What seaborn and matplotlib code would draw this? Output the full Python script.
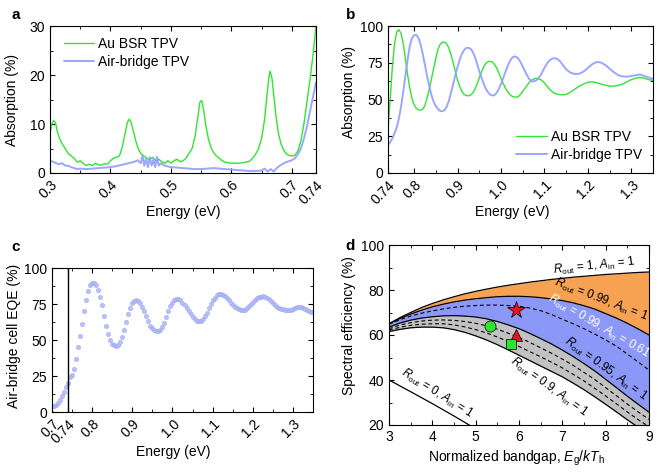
import numpy as np
import pandas as pd
import matplotlib
matplotlib.use("Agg")
import matplotlib.pyplot as plt
import seaborn as sns
from matplotlib.ticker import MultipleLocator, FixedLocator

# ---------------- data ----------------
# panel a : Au BSR TPV absorption
a_au_energy = [0.300, 0.303, 0.306, 0.309, 0.312, 0.316, 0.320, 0.325, 0.330, 0.335, 0.340, 0.345,
               0.350, 0.355, 0.360, 0.365, 0.370, 0.375, 0.380, 0.385, 0.390, 0.395, 0.400, 0.405,
               0.410, 0.415, 0.420, 0.424, 0.428, 0.431, 0.434, 0.438, 0.442, 0.446, 0.450, 0.455,
               0.460, 0.465, 0.470, 0.475, 0.480, 0.485, 0.490, 0.495, 0.500, 0.505, 0.510, 0.515,
               0.520, 0.525, 0.530, 0.535, 0.540, 0.544, 0.548, 0.551, 0.554, 0.558, 0.562, 0.566,
               0.570, 0.575, 0.580, 0.585, 0.590, 0.600, 0.610, 0.620, 0.630, 0.635, 0.640, 0.645,
               0.650, 0.655, 0.659, 0.662, 0.664, 0.667, 0.670, 0.674, 0.678, 0.682, 0.686, 0.690,
               0.695, 0.700, 0.705, 0.710, 0.715, 0.720, 0.725, 0.730, 0.735, 0.740]
a_au_abs = [8.0, 10.0, 10.7, 10.3, 8.5, 7.0, 6.0, 5.0, 4.0, 3.5, 3.0, 2.2,
            2.5, 2.0, 1.5, 1.8, 1.5, 2.0, 1.7, 1.6, 1.9, 1.8, 2.5, 3.0,
            3.2, 3.5, 5.5, 8.0, 10.3, 11.0, 10.4, 8.5, 6.5, 5.0, 4.0, 3.5,
            3.0, 2.8, 3.2, 2.5, 2.8, 2.3, 2.0, 2.5, 2.0, 2.5, 2.8, 2.3,
            2.5, 3.0, 4.0, 5.0, 7.5, 11.0, 14.5, 14.8, 13.0, 9.5, 7.0, 5.3,
            4.3, 3.5, 3.0, 2.5, 2.2, 2.0, 2.0, 2.1, 2.4, 3.0, 3.8, 5.0,
            7.0, 11.0, 16.0, 19.5, 20.8, 19.5, 16.0, 11.5, 8.0, 6.0, 4.8, 4.0,
            3.6, 3.5, 3.6, 4.5, 6.5, 10.0, 14.5, 19.0, 24.0, 30.0]
# panel a : air-bridge TPV absorption
a_ab_energy = [0.300, 0.305, 0.310, 0.315, 0.320, 0.325, 0.330, 0.335, 0.340, 0.345, 0.350, 0.360,
               0.370, 0.380, 0.390, 0.400, 0.410, 0.420, 0.430, 0.440, 0.445, 0.450, 0.453, 0.456,
               0.459, 0.462, 0.465, 0.468, 0.471, 0.474, 0.477, 0.480, 0.483, 0.490, 0.500, 0.510,
               0.520, 0.530, 0.540, 0.550, 0.560, 0.570, 0.580, 0.590, 0.600, 0.610, 0.620, 0.630,
               0.640, 0.650, 0.655, 0.660, 0.665, 0.670, 0.675, 0.680, 0.690, 0.700, 0.705, 0.710,
               0.715, 0.720, 0.725, 0.730, 0.735, 0.740]
a_ab_abs = [2.5, 2.3, 2.0, 1.8, 2.0, 1.5, 1.5, 1.2, 1.0, 0.8, 0.9, 0.8,
            0.9, 1.0, 1.1, 1.2, 1.4, 1.7, 2.0, 2.3, 2.6, 2.0, 3.5, 1.5,
            3.0, 1.2, 3.2, 1.5, 2.8, 1.2, 3.3, 1.5, 2.0, 1.5, 1.2, 1.1,
            1.0, 0.9, 0.8, 0.8, 0.9, 1.0, 0.9, 0.8, 0.7, 0.6, 0.5, 0.4,
            0.4, 0.5, 0.9, 0.3, 0.8, 0.3, 1.0, 1.5, 2.2, 2.6, 3.0, 3.8,
            5.0, 7.0, 9.5, 12.5, 15.5, 18.5]

# panel b : absorption above bandgap
b_energy = [0.740, 0.745, 0.750, 0.755, 0.760, 0.765, 0.770, 0.775, 0.780, 0.785, 0.790, 0.795,
            0.800, 0.805, 0.810, 0.815, 0.820, 0.825, 0.830, 0.835, 0.840, 0.845, 0.850, 0.855,
            0.860, 0.865, 0.870, 0.875, 0.880, 0.885, 0.890, 0.895, 0.900, 0.905, 0.910, 0.915,
            0.920, 0.925, 0.930, 0.935, 0.940, 0.945, 0.950, 0.955, 0.960, 0.965, 0.970, 0.975,
            0.980, 0.985, 0.990, 0.995, 1.000, 1.005, 1.010, 1.015, 1.020, 1.025, 1.030, 1.035,
            1.040, 1.045, 1.050, 1.055, 1.060, 1.065, 1.070, 1.075, 1.080, 1.085, 1.090, 1.095,
            1.100, 1.105, 1.110, 1.115, 1.120, 1.125, 1.130, 1.135, 1.140, 1.145, 1.150, 1.160,
            1.170, 1.180, 1.190, 1.200, 1.210, 1.220, 1.230, 1.240, 1.250, 1.260, 1.270, 1.280,
            1.290, 1.300, 1.310, 1.320, 1.330, 1.340, 1.350]
b_au_abs = [30, 50, 72, 88, 96, 97.5, 95, 88, 78, 67, 58, 51,
            46.5, 44, 43, 42.7, 43.5, 46, 51, 57, 64, 71, 78, 84,
            87.5, 89, 89, 88, 85, 80.5, 75, 69, 63.5, 59, 55.5, 53.5,
            52.7, 52.5, 53, 54.5, 57, 60.5, 64.5, 68.5, 72, 74.5, 75.8, 76,
            75.5, 74, 71.5, 68, 64.5, 61, 58, 55.5, 53.5, 52.3, 51.7, 51.6,
            52, 53.5, 55.5, 57.5, 59.5, 61.5, 63, 64, 64.3, 64.3, 63.8, 62.8,
            61.3, 59.5, 57.7, 56, 55, 54, 53.6, 53.3, 53.2, 53.2, 53.5, 55,
            57, 59, 60.5, 61.7, 62, 61.5, 60.5, 59.8, 59, 59.2, 59.5, 60.5,
            62, 63.5, 64.5, 65, 64.5, 63.5, 63]
b_ab_abs = [19, 21, 23.5, 27, 31, 37, 45, 55, 66, 77, 86, 91.5,
            93.7, 94, 92, 87.5, 81, 73.5, 66, 59, 53, 48.5, 45.5, 43.5,
            42.2, 42, 42.7, 45, 49, 54.5, 60.5, 66.5, 72, 77, 81, 83.5,
            85, 85.2, 84.5, 82.5, 79, 74.5, 69.5, 65, 61, 57.5, 55, 53.3,
            52.7, 53, 54.5, 57, 60.5, 64.5, 68.5, 72.5, 75.8, 78.2, 79.3, 79,
            77.8, 75.5, 72.5, 69.5, 66.5, 64, 62.5, 62.3, 62.8, 64, 66, 68.5,
            71.5, 74, 76, 77.3, 78, 78, 77.5, 76.3, 74.5, 72.5, 70.5, 68.3,
            67.3, 67.5, 69, 71.5, 74, 75.5, 75.2, 73.5, 71, 68.5, 66.5, 65.7,
            65.5, 66, 66.5, 67, 66, 65, 64]

# panel c : air-bridge cell EQE
c_energy = [0.700, 0.705, 0.710, 0.715, 0.720, 0.725, 0.730, 0.735, 0.740, 0.745, 0.750, 0.755,
            0.760, 0.765, 0.770, 0.775, 0.780, 0.785, 0.790, 0.795, 0.800, 0.805, 0.810, 0.815,
            0.820, 0.825, 0.830, 0.835, 0.840, 0.845, 0.850, 0.855, 0.860, 0.865, 0.870, 0.875,
            0.880, 0.885, 0.890, 0.895, 0.900, 0.905, 0.910, 0.915, 0.920, 0.925, 0.930, 0.935,
            0.940, 0.945, 0.950, 0.955, 0.960, 0.965, 0.970, 0.975, 0.980, 0.985, 0.990, 0.995,
            1.000, 1.005, 1.010, 1.015, 1.020, 1.025, 1.030, 1.035, 1.040, 1.045, 1.050, 1.055,
            1.060, 1.065, 1.070, 1.075, 1.080, 1.085, 1.090, 1.095, 1.100, 1.105, 1.110, 1.115,
            1.120, 1.125, 1.130, 1.135, 1.140, 1.145, 1.150, 1.155, 1.160, 1.165, 1.170, 1.175,
            1.180, 1.185, 1.190, 1.195, 1.200, 1.205, 1.210, 1.215, 1.220, 1.225, 1.230, 1.235,
            1.240, 1.245, 1.250, 1.255, 1.260, 1.265, 1.270, 1.275, 1.280, 1.285, 1.290, 1.295,
            1.300, 1.305, 1.310, 1.315, 1.320, 1.325, 1.330, 1.335, 1.340, 1.345, 1.350]
c_eqe = [4.0, 4.3, 5.0, 6.3, 8.0, 10.8, 14.0, 17.2, 20.0, 24.0, 26.0, 30.0,
         37.0, 45.0, 53.0, 61.0, 70.0, 78.0, 84.0, 88.0, 89.5, 89.5, 88.0, 84.5,
         80.0, 74.0, 67.0, 60.0, 54.0, 50.0, 47.5, 46.3, 46.0, 46.5, 48.5, 52.0,
         57.0, 62.5, 68.0, 72.5, 75.5, 77.0, 77.5, 77.0, 75.5, 73.0, 70.0, 66.5,
         63.0, 60.0, 58.0, 56.8, 56.5, 56.3, 57.0, 59.0, 62.0, 66.0, 70.0, 73.5,
         76.0, 77.5, 78.3, 78.5, 77.5, 76.0, 74.0, 72.0, 70.0, 68.0, 66.0, 64.5,
         63.5, 63.0, 63.3, 64.5, 66.5, 69.0, 72.0, 75.0, 77.5, 79.5, 81.0, 81.8,
         82.0, 81.5, 80.5, 79.0, 77.5, 76.0, 74.5, 73.0, 72.0, 71.3, 71.0, 70.8,
         71.0, 72.0, 73.5, 75.0, 76.5, 78.0, 79.0, 79.8, 80.2, 80.3, 80.2, 79.5,
         78.5, 77.0, 75.5, 74.0, 72.8, 72.0, 71.5, 71.2, 71.0, 70.8, 70.6, 70.8,
         71.5, 72.3, 72.8, 73.0, 72.8, 72.2, 71.3, 70.5, 69.8, 69.5, 69.3]

# panel d : spectral efficiency vs normalized bandgap
d_eg = [3.0, 3.25, 3.5, 3.75, 4.0, 4.25, 4.5, 4.75, 5.0, 5.25, 5.5, 5.75, 6.0,
        6.25, 6.5, 6.75, 7.0, 7.25, 7.5, 7.75, 8.0, 8.25, 8.5, 8.75, 9.0]
d_r100 = [65.0, 67.7, 70.0, 72.2, 74.0, 75.6, 77.0, 78.3, 79.4, 80.4, 81.3, 82.1, 82.8,
          83.5, 84.1, 84.7, 85.2, 85.7, 86.1, 86.5, 86.9, 87.2, 87.5, 87.8, 88.0]
d_r099 = [65.0, 67.3, 69.3, 71.0, 72.5, 73.7, 74.7, 75.5, 76.1, 76.6, 77.0, 77.2, 77.2,
          77.0, 76.6, 76.0, 75.3, 74.3, 73.0, 71.5, 69.5, 67.5, 65.2, 62.7, 60.0]
d_r099_a061 = [64.8, 66.8, 68.4, 69.7, 70.7, 71.6, 72.3, 72.8, 73.1, 73.3, 73.3, 73.1, 72.8,
               72.0, 70.8, 69.1, 67.0, 65.0, 62.8, 60.4, 57.8, 55.0, 51.5, 48.0, 44.4]
d_r095 = [63.5, 65.3, 66.6, 67.5, 68.1, 68.5, 68.6, 68.4, 68.0, 67.2, 66.0, 64.5, 62.8,
          60.7, 58.4, 56.0, 53.3, 50.4, 47.3, 44.0, 40.3, 36.6, 32.8, 29.2, 25.7]
d_dash1 = [62.8, 64.4, 65.5, 66.2, 66.6, 66.7, 66.5, 66.0, 65.2, 64.1, 62.6, 60.8, 58.9,
           56.7, 54.3, 51.9, 49.3, 46.5, 43.4, 40.2, 36.6, 33.0, 29.3, 25.8, 22.5]
d_dash2 = [62.2, 63.4, 64.3, 64.8, 65.0, 65.0, 64.5, 63.6, 62.4, 60.9, 59.1, 57.1, 54.9,
           52.6, 50.3, 47.9, 45.4, 42.5, 39.6, 36.3, 32.9, 29.4, 25.8, 22.4, 19.2]
d_r090 = [61.5, 62.5, 63.2, 63.5, 63.5, 63.2, 62.4, 61.2, 59.6, 57.8, 55.7, 53.4, 51.0,
          48.6, 46.2, 43.8, 41.4, 38.6, 35.7, 32.5, 29.2, 25.8, 22.3, 19.0, 16.0]
d_r0_eg = [3.0, 3.5, 4.0, 4.5, 5.0]
d_r0 = [40.0, 34.8, 29.5, 24.0, 18.3]
d_points_x = [5.92, 5.92, 5.32, 5.81]
d_points_y = [71.1, 60.0, 64.1, 56.1]
d_points_marker = ["*", "^", "o", "s"]
d_points_color = ["#e8141e", "#e8141e", "#2ee52e", "#2ee52e"]
d_points_size = [13, 9, 8, 7]

a_xticks = [0.3, 0.4, 0.5, 0.6, 0.7, 0.74]
a_xticklabels = ["0.3", "0.4", "0.5", "0.6", "0.7", "0.74"]
b_xticks = [0.74, 0.8, 0.9, 1.0, 1.1, 1.2, 1.3]
b_xticklabels = ["0.74", "0.8", "0.9", "1.0", "1.1", "1.2", "1.3"]
c_xticks = [0.7, 0.74, 0.8, 0.9, 1.0, 1.1, 1.2, 1.3]
c_xticklabels = ["0.7", "0.74", "0.8", "0.9", "1.0", "1.1", "1.2", "1.3"]

GREEN = "#2fe62f"
BLUE = "#8f9dff"
EQE_BLUE = "#adb6f6"
ORANGE = "#f7a152"
FILL_BLUE = "#8b98f7"
GRAY = "#c2c2c2"

# ---------------- style ----------------
sns.set_theme(style="ticks")
plt.rcParams.update({
    "axes.edgecolor": "black",
    "axes.linewidth": 0.8,
    "xtick.direction": "in",
    "ytick.direction": "in",
    "xtick.top": True,
    "ytick.right": True,
    "xtick.color": "black",
    "ytick.color": "black",
    "xtick.major.size": 3.5,
    "ytick.major.size": 3.5,
    "xtick.minor.size": 2,
    "ytick.minor.size": 2,
    "xtick.major.width": 0.8,
    "ytick.major.width": 0.8,
    "xtick.minor.width": 0.6,
    "ytick.minor.width": 0.6,
    "xtick.labelsize": 10,
    "ytick.labelsize": 10,
    "axes.labelsize": 10,
    "text.color": "black",
    "axes.labelcolor": "black",
    "mathtext.fontset": "custom",
    "mathtext.rm": "Liberation Sans",
    "mathtext.it": "Liberation Sans:italic",
    "mathtext.bf": "Liberation Sans:bold",
})
plt.rcParams["font.family"] = ["Liberation Sans", "DejaVu Sans"]

W, H = 660, 472
fig = plt.figure(figsize=(W / 100, H / 100), dpi=100)


def add_axes(l, r, t, b):
    return fig.add_axes([l / W, 1 - b / H, (r - l) / W, (b - t) / H])


def rotate_xlabels(ax):
    for lab in ax.get_xticklabels():
        lab.set_rotation(45)
        lab.set_ha("right")
        lab.set_va("top")
        lab.set_rotation_mode("anchor")


# ---------------- panel a ----------------
axa = add_axes(50, 316, 26, 173)
sns.lineplot(x=a_au_energy, y=a_au_abs, ax=axa, color=GREEN, lw=1.0, label="Au BSR TPV", estimator=None)
sns.lineplot(x=a_ab_energy, y=a_ab_abs, ax=axa, color=BLUE, lw=1.4, alpha=0.9, label="Air-bridge TPV", estimator=None)
axa.set_xlim(0.3, 0.74)
axa.set_ylim(0, 30)
axa.set_xticks(a_xticks)
axa.set_xticklabels(a_xticklabels)
axa.xaxis.set_minor_locator(FixedLocator([0.35, 0.45, 0.55, 0.65]))
axa.set_yticks([0, 10, 20, 30])
axa.yaxis.set_minor_locator(MultipleLocator(5))
rotate_xlabels(axa)
axa.set_xlabel("Energy (eV)")
axa.set_ylabel("Absorption (%)")
axa.xaxis.set_label_coords(0.5, -0.22)
axa.yaxis.set_label_coords(-0.115, 0.5)
axa.legend(loc="upper left", bbox_to_anchor=(0.02, 0.98), frameon=False, fontsize=10,
           handlelength=2.2, labelspacing=0.25, handletextpad=0.3, borderaxespad=0.2)

# ---------------- panel b ----------------
axb = add_axes(388, 653, 26, 173)
sns.lineplot(x=b_energy, y=b_au_abs, ax=axb, color=GREEN, lw=1.0, label="Au BSR TPV", estimator=None)
sns.lineplot(x=b_energy, y=b_ab_abs, ax=axb, color=BLUE, lw=1.4, alpha=0.9, label="Air-bridge TPV", estimator=None)
axb.set_xlim(0.74, 1.35)
axb.set_ylim(0, 100)
axb.set_xticks(b_xticks)
axb.set_xticklabels(b_xticklabels)
axb.xaxis.set_minor_locator(FixedLocator([0.85, 0.95, 1.05, 1.15, 1.25]))
axb.set_yticks([0, 25, 50, 75, 100])
axb.yaxis.set_minor_locator(MultipleLocator(12.5))
rotate_xlabels(axb)
axb.set_xlabel("Energy (eV)")
axb.set_ylabel("Absorption (%)")
axb.xaxis.set_label_coords(0.47, -0.22)
axb.yaxis.set_label_coords(-0.12, 0.55)
axb.legend(loc="lower right", bbox_to_anchor=(0.99, 0.02), frameon=False, fontsize=10,
           handlelength=2.2, labelspacing=0.25, handletextpad=0.3, borderaxespad=0.2)

# ---------------- panel c ----------------
axc = add_axes(52, 313, 268, 412)
axc.axvline(0.74, color="black", lw=1.0)
sns.scatterplot(x=c_energy, y=c_eqe, ax=axc, color=EQE_BLUE, s=10, alpha=0.85,
                edgecolor="#9ea9f2", linewidth=0.4)
axc.set_xlim(0.7, 1.35)
axc.set_ylim(0, 100)
axc.set_xticks(c_xticks)
axc.set_xticklabels(c_xticklabels)
axc.xaxis.set_minor_locator(FixedLocator([0.75, 0.85, 0.95, 1.05, 1.15, 1.25]))
axc.set_yticks([0, 25, 50, 75, 100])
axc.yaxis.set_minor_locator(MultipleLocator(12.5))
rotate_xlabels(axc)
axc.set_xlabel("Energy (eV)")
axc.set_ylabel("Air-bridge cell EQE (%)")
axc.xaxis.set_label_coords(0.465, -0.23)
axc.yaxis.set_label_coords(-0.12, 0.53)

# ---------------- panel d ----------------
axd = add_axes(389, 649, 245, 425)
axd.fill_between(d_eg, d_r099, d_r100, color=ORANGE, lw=0)
axd.fill_between(d_eg, d_r095, d_r099, color=FILL_BLUE, lw=0)
axd.fill_between(d_eg, d_r090, d_r095, color=GRAY, lw=0)
for ys in (d_r100, d_r099, d_r095, d_r090):
    sns.lineplot(x=d_eg, y=ys, ax=axd, color="black", lw=0.9, estimator=None)
for ys in (d_r099_a061, d_dash1, d_dash2):
    sns.lineplot(x=d_eg, y=ys, ax=axd, color="black", lw=0.8, linestyle=(0, (3.5, 2.5)), estimator=None)
sns.lineplot(x=d_r0_eg, y=d_r0, ax=axd, color="black", lw=0.9, estimator=None)
for xp, yp, mk, col, ms in zip(d_points_x, d_points_y, d_points_marker, d_points_color, d_points_size):
    axd.plot([xp], [yp], marker=mk, color=col, markersize=ms, markeredgecolor="black",
             markeredgewidth=0.5, linestyle="none", zorder=5)
axd.set_xlim(3, 9)
axd.set_ylim(20, 100)
axd.set_xticks([3, 4, 5, 6, 7, 8, 9])
axd.xaxis.set_minor_locator(MultipleLocator(0.5))
axd.set_yticks([20, 40, 60, 80, 100])
axd.yaxis.set_minor_locator(MultipleLocator(10))
axd.set_xlabel(r"Normalized bandgap, $E_{\rm g}/kT_{\rm h}$")
axd.set_ylabel("Spectral efficiency (%)")
axd.xaxis.set_label_coords(0.49, -0.13)
axd.yaxis.set_label_coords(-0.125, 0.55)

lab_kw = dict(ha="center", va="center", rotation_mode="anchor", fontsize=8.5)
axd.text(7.75, 90.8, r"$R_{\rm out}$ = 1, $A_{\rm in}$ = 1", rotation=6, **lab_kw)
axd.text(7.9, 75.8, r"$R_{\rm out}$ = 0.99, $A_{\rm in}$ = 1", rotation=-21, **lab_kw)
axd.text(7.85, 63.8, r"$R_{\rm out}$ = 0.99, $A_{\rm in}$ = 0.61", rotation=-30, color="white", **lab_kw)
axd.text(8.0, 45.0, r"$R_{\rm out}$ = 0.95, $A_{\rm in}$ = 1", rotation=-36, **lab_kw)
axd.text(6.7, 36.9, r"$R_{\rm out}$ = 0.9, $A_{\rm in}$ = 1", rotation=-36, **lab_kw)
axd.text(4.12, 34.2, r"$R_{\rm out}$ = 0, $A_{\rm in}$ = 1", rotation=-32, **lab_kw)

# ---------------- panel letters ----------------
for txt, x, y in (("a", 11, 8), ("b", 346, 8), ("c", 11, 240), ("d", 345, 239)):
    fig.text(x / W, 1 - y / H, txt, fontsize=11, fontweight="bold", va="top", ha="left")

fig.savefig("out.png", dpi=100)
